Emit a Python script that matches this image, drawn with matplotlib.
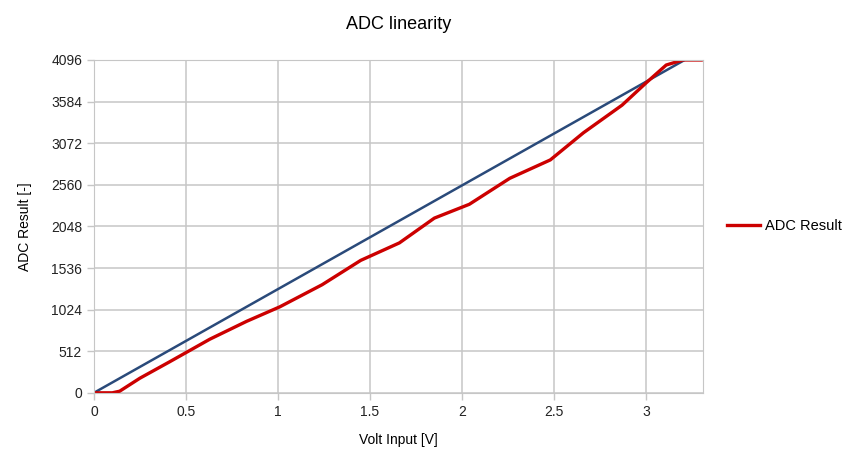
import matplotlib.pyplot as plt

plt.rcParams['font.family'] = ['Liberation Sans', 'DejaVu Sans']

# measured points (volt, adc)
volt = [0, 0.1, 0.14, 0.25, 0.41, 0.52, 0.63, 0.83, 1.01, 1.24, 1.45, 1.66, 1.85, 2.04, 2.26, 2.48, 2.66, 2.87, 3.0, 3.11, 3.2, 3.3]
adc = [0, 0, 20, 180, 380, 520, 660, 880, 1058, 1330, 1630, 1845, 2150, 2320, 2640, 2866, 3200, 3540, 3813, 4034, 4096, 4096]

# ideal line
ideal_v = [0, 3.21]
ideal_adc = [0, 4096]

yticks = [0, 512, 1024, 1536, 2048, 2560, 3072, 3584, 4096]
xticks = [0, 0.5, 1, 1.5, 2, 2.5, 3]

grid_c = '#c6c6c6'

fig = plt.figure(figsize=(8.46, 4.51), dpi=100)
ax = fig.add_axes([0.111, 0.129, 0.72, 0.738])

ax.plot(ideal_v, ideal_adc, color='#2a4a7a', lw=1.8, solid_capstyle='round')
ax.plot(volt, adc, color='#cc0000', lw=2.4, label='ADC Result', solid_joinstyle='round')

ax.set_xlim(0, 3.31)
ax.set_ylim(0, 4096)
ax.set_xticks(xticks)
ax.set_xticklabels(['0', '0.5', '1', '1.5', '2', '2.5', '3'])
ax.set_yticks(yticks)
ax.grid(True, color=grid_c, lw=1.1)
ax.set_axisbelow(True)
for s in ax.spines.values():
    s.set_color(grid_c)
ax.tick_params(axis='both', colors=grid_c, labelcolor='#222222', labelsize=10, length=5, width=1)

ax.set_title('ADC linearity', fontsize=13, pad=22)
ax.set_xlabel('Volt Input [V]', fontsize=10, labelpad=10)
ax.set_ylabel('ADC Result [-]', fontsize=10, labelpad=14)

ax.legend(loc='center left', bbox_to_anchor=(1.039, 0.5), frameon=False, fontsize=10.5,
          borderaxespad=0, borderpad=0, handlelength=2.3, handletextpad=0.35)

plt.savefig('out.png')
